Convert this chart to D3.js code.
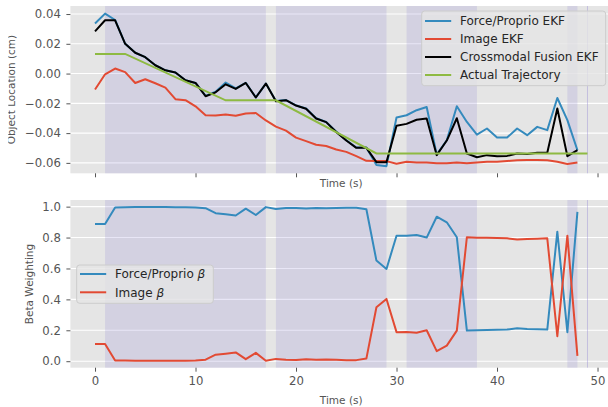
<!DOCTYPE html>
<html>
<head>
<meta charset="utf-8">
<script src="https://cdn.jsdelivr.net/npm/d3@7"></script>
<style>
  body { margin: 0; background: #fff; }
  text { font-family: "DejaVu Sans", sans-serif; }
</style>
</head>
<body>
<div id="main"></div>
<script>
"use strict";

// object location estimates (cm), one value per second, t = 0..48
var forceEKF = [0.0336, 0.0403, 0.0360, 0.0200, 0.0140, 0.0110, 0.0056, 0.0022, 0.0007, -0.0045,
  -0.0063, -0.0150, -0.0122, -0.0060, -0.0100, -0.0062, -0.0160, -0.0067, -0.0185, -0.0178,
  -0.0214, -0.0235, -0.0300, -0.0325, -0.0390, -0.0448, -0.0497, -0.0497, -0.0615, -0.0622,
  -0.0295, -0.0280, -0.0246, -0.0225, -0.0545, -0.0448, -0.0220, -0.0325, -0.0410, -0.0369,
  -0.0430, -0.0430, -0.0369, -0.0414, -0.0358, -0.0380, -0.0164, -0.0313, -0.0515];
var imageEKF = [-0.0107, -0.0005, 0.0034, 0.0010, -0.0063, -0.0038, -0.0065, -0.0094, -0.0172, -0.0179,
  -0.0220, -0.0280, -0.0282, -0.0275, -0.0284, -0.0268, -0.0265, -0.0315, -0.0356, -0.0383,
  -0.0430, -0.0454, -0.0478, -0.0487, -0.0510, -0.0526, -0.0555, -0.0586, -0.0588, -0.0588,
  -0.0606, -0.0592, -0.0597, -0.0598, -0.0603, -0.0602, -0.0597, -0.0603, -0.0597, -0.0593,
  -0.0592, -0.0587, -0.0583, -0.0581, -0.0581, -0.0583, -0.0593, -0.0608, -0.0597];
var fusionEKF = [0.0284, 0.0358, 0.0358, 0.0200, 0.0140, 0.0110, 0.0056, 0.0022, 0.0007, -0.0045,
  -0.0063, -0.0152, -0.0126, -0.0072, -0.0103, -0.0063, -0.0161, -0.0067, -0.0186, -0.0179,
  -0.0215, -0.0236, -0.0302, -0.0326, -0.0392, -0.0450, -0.0499, -0.0499, -0.0595, -0.0595,
  -0.0350, -0.0338, -0.0310, -0.0302, -0.0548, -0.0450, -0.0300, -0.0537, -0.0562, -0.0548,
  -0.0555, -0.0553, -0.0537, -0.0541, -0.0532, -0.0532, -0.0235, -0.0555, -0.0515];
// actual trajectory, breakpoints only
var trajTimes = [0, 3, 13, 18, 28, 49];
var trajValues = [0.0132, 0.0132, -0.0180, -0.0180, -0.0537, -0.0537];

// beta weighting
var betaForce = [0.888, 0.888, 0.995, 0.996, 0.997, 0.997, 0.997, 0.997, 0.996, 0.996,
  0.995, 0.990, 0.958, 0.951, 0.943, 0.987, 0.946, 0.997, 0.985, 0.991,
  0.992, 0.988, 0.991, 0.989, 0.991, 0.993, 0.993, 0.983, 0.651, 0.597,
  0.812, 0.811, 0.816, 0.800, 0.935, 0.899, 0.802, 0.198, 0.201, 0.202,
  0.203, 0.205, 0.213, 0.209, 0.207, 0.205, 0.838, 0.188, 0.966];
var betaImage = [0.112, 0.112, 0.005, 0.004, 0.003, 0.003, 0.003, 0.003, 0.003, 0.003,
  0.005, 0.010, 0.042, 0.049, 0.057, 0.013, 0.054, 0.003, 0.015, 0.009,
  0.008, 0.012, 0.009, 0.011, 0.009, 0.007, 0.007, 0.017, 0.349, 0.403,
  0.188, 0.189, 0.184, 0.200, 0.065, 0.101, 0.198, 0.802, 0.799, 0.798,
  0.797, 0.795, 0.787, 0.791, 0.793, 0.795, 0.162, 0.812, 0.034];

// contact phases (shaded) and a marker line
var spans = [[1, 17], [18, 29], [31, 38], [47, 48]];
var markerTime = 49;

var xTicks = [0, 10, 20, 30, 40, 50];
var locTicks = [-0.06, -0.04, -0.02, 0.00, 0.02, 0.04];
var betaTicks = [0.0, 0.2, 0.4, 0.6, 0.8, 1.0];

(function() {
  var C = {
    W: 608,
    H: 407,
    blue: "#348ABD",
    red: "#E24A33",
    green: "#8EBA42",
    bg: "#E5E5E5",
    tick: "#555555",
    svg: null,
    x: null,

    init: function() {
      this.svg = d3.select("#main").append("svg").attr("width", C.W).attr("height", C.H);
      this.x = d3.scaleLinear().domain([-2.45, 51.45]).range([70.4, 612.1]);

      var yLoc = d3.scaleLinear().domain([-0.0670, 0.0454]).range([173.3, 6]);
      var top = this.panel("top", yLoc, locTicks, d3.format(".2f"), false);
      this.line(top, yLoc, forceEKF, C.blue);
      this.line(top, yLoc, imageEKF, C.red);
      this.line(top, yLoc, fusionEKF, "#000000");
      top.append("path")
        .attr("d", d3.line().x(function(d, i) { return C.x(trajTimes[i]); }).y(function(d) { return yLoc(d); })(trajValues))
        .attr("fill", "none").attr("stroke", C.green).attr("stroke-width", 2);
      this.legend(421.7, 11, 184, 74.7, [
        ["Force/Proprio EKF", C.blue], ["Image EKF", C.red],
        ["Crossmodal Fusion EKF", "#000000"], ["Actual Trajectory", C.green]], false);

      var yBeta = d3.scaleLinear().domain([-0.042, 1.043]).range([367.7, 200]);
      var bot = this.panel("bot", yBeta, betaTicks, d3.format(".1f"), true);
      this.line(bot, yBeta, betaForce, C.blue);
      this.line(bot, yBeta, betaImage, C.red);
      this.legend(76.7, 265, 136.6, 38.3, [["Force/Proprio ", C.blue], ["Image ", C.red]], true);

      // y labels and x labels
      this.svg.append("text").attr("transform", "translate(14.5,89.6) rotate(-90)")
        .attr("text-anchor", "middle").attr("font-size", 10.5).attr("fill", C.tick)
        .text("Object Location (cm)");
      this.svg.append("text").attr("transform", "translate(33,284) rotate(-90)")
        .attr("text-anchor", "middle").attr("font-size", 10.5).attr("fill", C.tick)
        .text("Beta Weighting");
      [187, 404].forEach(function(y) {
        C.svg.append("text").attr("x", 341.2).attr("y", y).attr("text-anchor", "middle")
          .attr("font-size", 10.5).attr("fill", C.tick).text("Time (s)");
      });
      // image crop on the left edge
      this.svg.append("rect").attr("x", 0).attr("y", 0).attr("width", 8.3).attr("height", 190).attr("fill", "#fff");
    },

    panel: function(id, y, ticks, fmt, showX) {
      var x0 = C.x.range()[0], x1 = C.x.range()[1];
      var yr = y.range();
      var g = C.svg.append("g");
      C.svg.append("clipPath").attr("id", "clip-" + id).append("rect")
        .attr("x", x0).attr("y", yr[1]).attr("width", x1 - x0).attr("height", yr[0] - yr[1]);
      g.append("rect").attr("x", x0).attr("y", yr[1]).attr("width", x1 - x0).attr("height", yr[0] - yr[1]).attr("fill", C.bg);
      ticks.forEach(function(t) {
        g.append("line").attr("x1", x0).attr("x2", x1).attr("y1", y(t)).attr("y2", y(t))
          .attr("stroke", "#ffffff").attr("stroke-width", 1.1);
      });
      spans.forEach(function(s) {
        g.append("rect").attr("x", C.x(s[0])).attr("y", yr[1]).attr("width", C.x(s[1]) - C.x(s[0]))
          .attr("height", yr[0] - yr[1]).attr("fill", "rgba(152,142,213,0.22)");
      });
      g.append("line").attr("x1", C.x(markerTime)).attr("x2", C.x(markerTime)).attr("y1", yr[1]).attr("y2", yr[0])
        .attr("stroke", "rgba(152,142,213,0.45)").attr("stroke-width", 1);

      var ya = C.svg.append("g").attr("transform", "translate(" + x0 + ",0)")
        .call(d3.axisLeft(y).tickValues(ticks).tickFormat(fmt).tickSize(4).tickPadding(5.5));
      var xa = C.svg.append("g").attr("transform", "translate(0," + yr[0] + ")")
        .call(d3.axisBottom(C.x).tickValues(xTicks).tickSize(4).tickPadding(5)
          .tickFormat(showX ? d3.format("d") : function() { return ""; }));
      [ya, xa].forEach(function(a) {
        a.select(".domain").remove();
        a.selectAll(".tick line").attr("stroke", C.tick);
        a.selectAll(".tick text").attr("fill", C.tick).attr("font-size", 11.7)
          .attr("font-family", "DejaVu Sans");
      });
      return C.svg.append("g").attr("clip-path", "url(#clip-" + id + ")");
    },

    line: function(g, y, values, color) {
      g.append("path")
        .attr("d", d3.line().x(function(d, i) { return C.x(i); }).y(function(d) { return y(d); })(values))
        .attr("fill", "none").attr("stroke", color).attr("stroke-width", 2)
        .attr("stroke-linejoin", "round");
    },

    legend: function(lx, ly, lw, lh, items, beta) {
      var g = C.svg.append("g");
      g.append("rect").attr("x", lx).attr("y", ly).attr("width", lw).attr("height", lh).attr("rx", 3)
        .attr("fill", "rgba(229,229,229,0.8)").attr("stroke", "#CCCCCC").attr("stroke-width", 1);
      var row0 = beta ? 9 : 10, step = beta ? 18.3 : 18;
      items.forEach(function(it, i) {
        var yy = ly + row0 + i * step;
        g.append("line").attr("x1", lx + 3.3).attr("x2", lx + 29.5).attr("y1", yy).attr("y2", yy)
          .attr("stroke", it[1]).attr("stroke-width", 2);
        var t = g.append("text").attr("x", lx + 38.3).attr("y", yy + 4.3).attr("font-size", 12)
          .attr("fill", "#262626").text(it[0]);
        if (beta) t.append("tspan").attr("font-style", "italic").text("\u03B2");
      });
    }
  };
  C.init();
})();
</script>
</body>
</html>
